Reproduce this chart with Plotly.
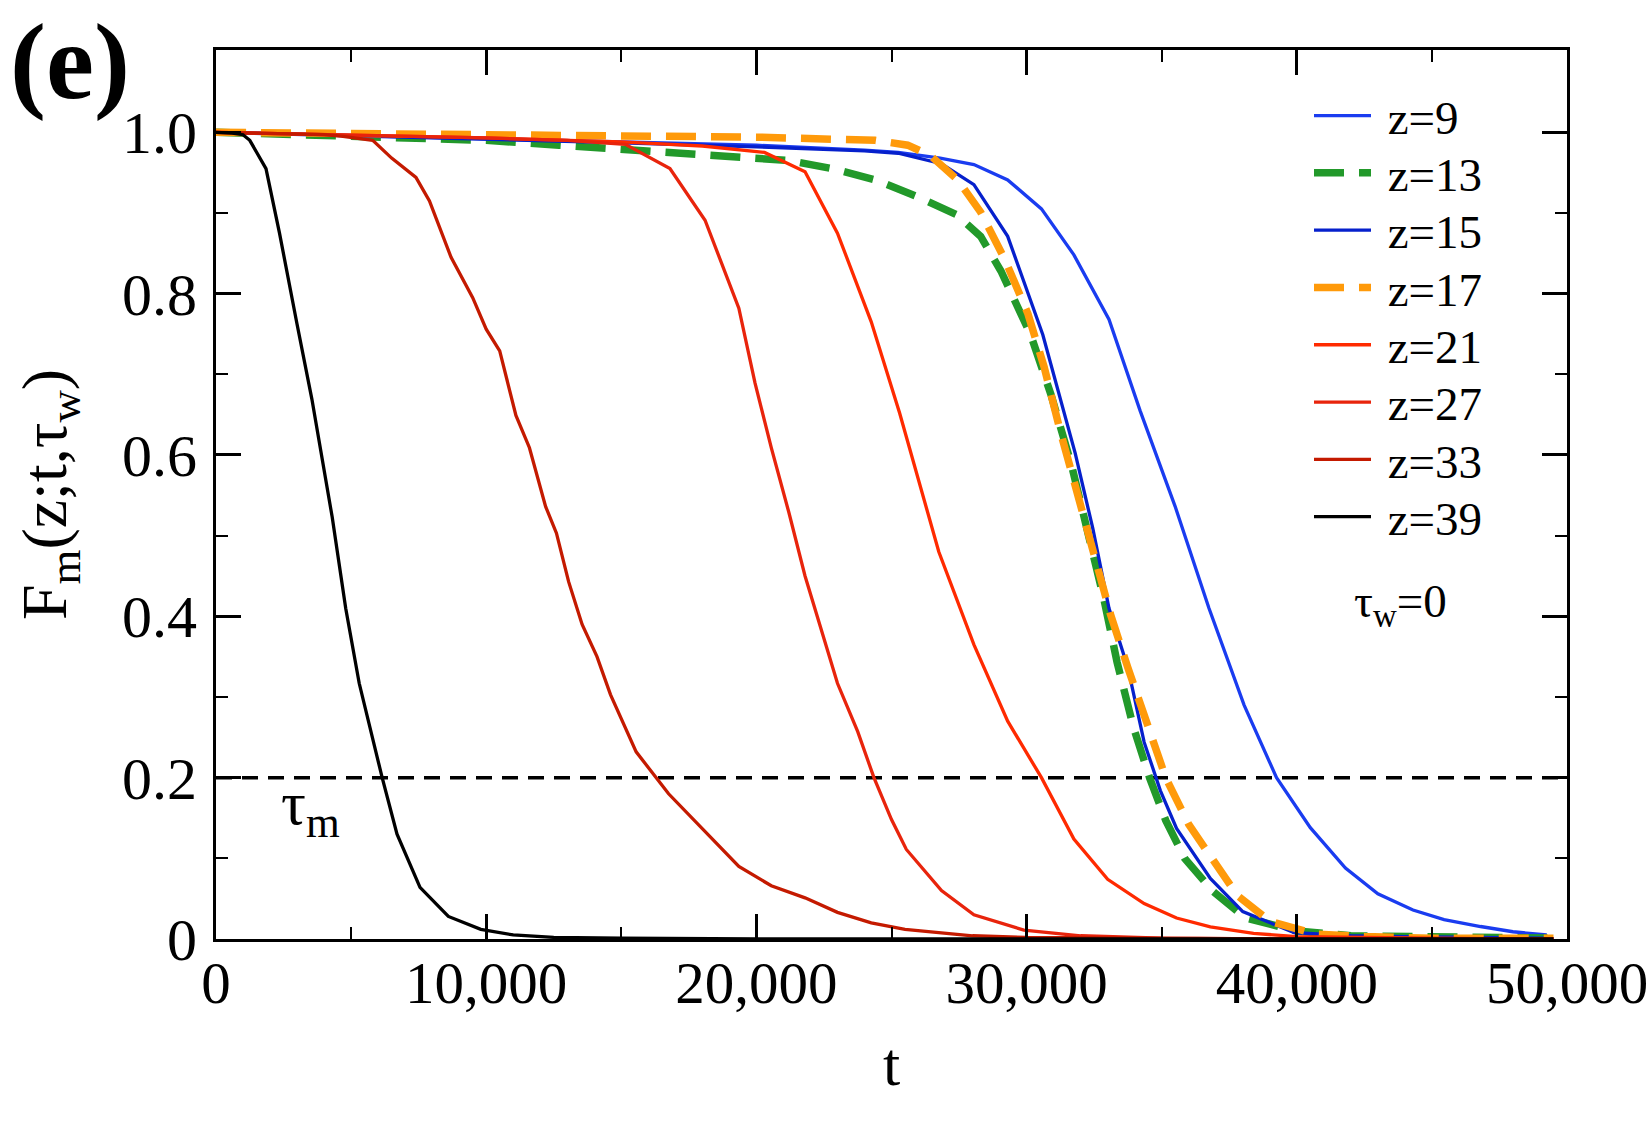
import plotly.graph_objects as go

# ---------------- data ----------------
t_z9 = [0, 5000, 10000, 15000, 20000, 24000, 25250, 26800, 28050, 29300, 30550, 31750, 33050,
        34200, 35500, 36750, 38050, 39250, 40500, 41800, 43000, 44300, 45450, 46800, 48000, 49250]
f_z9 = [1.0, 0.996, 0.992, 0.988, 0.984, 0.978, 0.975, 0.968, 0.96, 0.941, 0.905, 0.848, 0.768,
        0.655, 0.536, 0.41, 0.29, 0.2, 0.138, 0.088, 0.056, 0.036, 0.024, 0.0155, 0.009, 0.005]

t_z13 = [0, 5000, 10000, 12700, 17600, 21200, 22800, 24400, 25900, 27400, 28300, 29050, 30150,
         30900, 31650, 32250, 32850, 33350, 33950, 34550, 35150, 35850, 36900, 38100, 40000, 42000,
         45000, 49500]
f_z13 = [1.0, 0.995, 0.99, 0.984, 0.974, 0.965, 0.955, 0.941, 0.921, 0.898, 0.871, 0.828, 0.749,
         0.675, 0.589, 0.509, 0.423, 0.343, 0.263, 0.2, 0.147, 0.1, 0.059, 0.026, 0.01, 0.004,
         0.002, 0.001]

t_z15 = [0, 5000, 10000, 15000, 20000, 24000, 25250, 26850, 28050, 29300, 30600, 31800, 32450,
         33050, 33750, 34350, 34950, 35550, 36800, 38000, 39900, 42000, 44000, 46000, 49250]
f_z15 = [1.0, 0.996, 0.991, 0.987, 0.982, 0.977, 0.974, 0.961, 0.935, 0.871, 0.749, 0.602, 0.509,
         0.41, 0.336, 0.244, 0.184, 0.137, 0.075, 0.034, 0.008, 0.004, 0.003, 0.002, 0.001]

t_z17 = [0, 5000, 10000, 15000, 20000, 24400, 25600, 26450, 27450, 28300, 29200, 30050, 30650,
         31250, 31900, 32500, 33100, 33750, 34350, 35150, 36000, 37000, 37800, 39000, 40700, 42500,
         45000, 49500]
f_z17 = [1.0, 0.999, 0.998, 0.996, 0.994, 0.99, 0.984, 0.971, 0.941, 0.901, 0.842, 0.775, 0.709,
         0.629, 0.549, 0.469, 0.403, 0.336, 0.277, 0.2, 0.142, 0.094, 0.054, 0.022, 0.006, 0.003,
         0.001, 0.001]

t_z21 = [0, 5000, 10000, 15000, 18000, 20300, 21800, 23000, 24250, 25300, 26750, 28050, 29300,
         30550, 31750, 33000, 34350, 35550, 36800, 38400, 40000, 45000, 49500]
f_z21 = [1.0, 0.997, 0.993, 0.988, 0.983, 0.975, 0.951, 0.875, 0.765, 0.652, 0.48, 0.365, 0.27,
         0.2, 0.124, 0.074, 0.044, 0.026, 0.015, 0.007, 0.003, 0.001, 0.0]

t_z27 = [0, 5000, 10000, 13000, 15150, 16800, 18100, 19350, 19950, 20550, 21200, 21800, 22400,
         23000, 23750, 24350, 25000, 25550, 26850, 28050, 29900, 32000, 35000, 40000, 49500]
f_z27 = [1.0, 0.997, 0.993, 0.99, 0.985, 0.955, 0.891, 0.782, 0.689, 0.609, 0.529, 0.45, 0.383,
         0.317, 0.257, 0.2, 0.148, 0.111, 0.06, 0.03, 0.011, 0.004, 0.001, 0.0, 0.0]

t_z33 = [0, 2000, 4000, 4700, 5800, 6500, 7400, 7900, 8700, 9500, 10000, 10500, 11100, 11600,
         12200, 12600, 13050, 13550, 14100, 14600, 15550, 16750, 18000, 19350, 20550, 21800, 23000,
         24250, 25500, 26700, 28000, 30000, 35000, 40000, 49500]
f_z33 = [1.0, 0.998, 0.997, 0.995, 0.99, 0.968, 0.944, 0.915, 0.845, 0.795, 0.756, 0.729, 0.649,
         0.609, 0.536, 0.503, 0.443, 0.39, 0.35, 0.303, 0.232, 0.18, 0.137, 0.09, 0.066, 0.051,
         0.033, 0.02, 0.012, 0.008, 0.004, 0.002, 0.0005, 0.0, 0.0]

t_z39 = [0, 600, 1000, 1250, 1850, 2350, 3000, 3550, 4300, 4800, 5300, 6150, 6700, 7550, 8600,
         9800, 11000, 12500, 15000, 20000, 30000, 40000, 49500]
f_z39 = [1.0, 0.999, 0.997, 0.99, 0.955, 0.875, 0.762, 0.669, 0.523, 0.41, 0.317, 0.2, 0.13, 0.064,
         0.028, 0.012, 0.005, 0.002, 0.001, 0.0, 0.0, 0.0, 0.0]

series_names = ["z=9", "z=13", "z=15", "z=17", "z=21", "z=27", "z=33", "z=39"]
series_t = [t_z9, t_z13, t_z15, t_z17, t_z21, t_z27, t_z33, t_z39]
series_f = [f_z9, f_z13, f_z15, f_z17, f_z21, f_z27, f_z33, f_z39]

threshold_t = [0, 50000]
threshold_f = [0.2, 0.2]

x_tickvals = [0, 10000, 20000, 30000, 40000, 50000]
x_ticktext = ["0", "10,000", "20,000", "30,000", "40,000", "50,000"]
x_minorvals = [5000, 15000, 25000, 35000, 45000]
y_tickvals = [0, 0.2, 0.4, 0.6, 0.8, 1.0]
y_ticktext = ["0", "0.2", "0.4", "0.6", "0.8", "1.0"]
y_minorvals = [0.1, 0.3, 0.5, 0.7, 0.9]

# ---------------- styles ----------------
FONT = "Liberation Serif, Times New Roman, serif"
colors = ["#1a3cf0", "#22992a", "#0620cc", "#ff9a0a", "#ff2a00", "#e8240c", "#c41a00", "#000000"]
widths = [3.3, 7.5, 3.3, 7.5, 3.3, 3.3, 3.3, 3.3]
dashes = ["solid", "30px,15px", "solid", "30px,15px", "solid", "solid", "solid", "solid"]

W, H = 1650, 1125
ML, MR, MT, MB = 216, 83, 50, 186
PW, PH = W - ML - MR, H - MT - MB

fig = go.Figure()

fig.add_trace(go.Scatter(x=threshold_t, y=threshold_f, mode="lines", showlegend=False,
                         line=dict(color="black", width=3.5, dash="16px,10px"), hoverinfo="skip"))

legend_layouts = {}
for i, (name, tt, ff) in enumerate(zip(series_names, series_t, series_f)):
    lname = "legend" if i == 0 else f"legend{i + 1}"
    fig.add_trace(go.Scatter(x=tt, y=ff, mode="lines", name="\u00a0" + name, legend=lname,
                             line=dict(color=colors[i], width=widths[i], dash=dashes[i])))
    row_y = 116 + 57.3 * i
    legend_layouts[lname] = dict(
        x=(1309 - ML) / PW, xanchor="left",
        y=(H - MB - row_y) / PH, yanchor="middle",
        bgcolor="rgba(0,0,0,0)", borderwidth=0,
        font=dict(family=FONT, size=47, color="black"),
        itemwidth=57, tracegroupgap=0,
    )

axis_common = dict(
    showgrid=False, zeroline=False, showline=True, linewidth=3, linecolor="black",
    mirror="ticks", ticks="inside", ticklen=25, tickwidth=3, tickcolor="black",
    automargin=False,
)

fig.update_layout(
    width=W, height=H,
    margin=dict(l=ML, r=MR, t=MT, b=MB, pad=0, autoexpand=False),
    plot_bgcolor="white", paper_bgcolor="white",
    font=dict(family=FONT, color="black"),
    xaxis=dict(range=[0, 50000], tickmode="array", tickvals=x_tickvals, ticktext=x_ticktext,
               minor=dict(tickmode="array", tickvals=x_minorvals, ticks="inside", ticklen=12,
                          tickwidth=2, tickcolor="black"),
               ticklabelstandoff=-10,
               tickfont=dict(family=FONT, size=59, color="black"),
               title=dict(text="t", font=dict(family=FONT, size=62, color="black"), standoff=27),
               **axis_common),
    yaxis=dict(range=[0, 1.102], tickmode="array", tickvals=y_tickvals, ticktext=y_ticktext,
               minor=dict(tickmode="array", tickvals=y_minorvals, ticks="inside", ticklen=12,
                          tickwidth=2, tickcolor="black"),
               ticklabelstandoff=4,
               tickfont=dict(family=FONT, size=60, color="black"),
               title=dict(text="F<sub>m</sub>(z;t,τ<sub>w</sub>)",
                          font=dict(family=FONT, size=64, color="black"), standoff=35),
               **axis_common),
    showlegend=True,
    **legend_layouts,
)

fig.add_annotation(text="<b>(e)</b>", xref="paper", yref="paper",
                   x=(8 - ML) / PW, xanchor="left", y=(H - MB - 62) / PH, yanchor="middle",
                   showarrow=False, font=dict(family=FONT, size=108, color="black"))
fig.add_annotation(text="τ<sub>m</sub>", xref="x", yref="y", x=3500, y=0.163,
                   xanchor="center", yanchor="middle", showarrow=False,
                   font=dict(family=FONT, size=62, color="black"))
fig.add_annotation(text="τ<sub>w</sub>=0", xref="paper", yref="paper",
                   x=(1400 - ML) / PW, xanchor="center", y=(H - MB - 604) / PH, yanchor="middle",
                   showarrow=False, font=dict(family=FONT, size=47, color="black"))

fig.write_html("out.html")
